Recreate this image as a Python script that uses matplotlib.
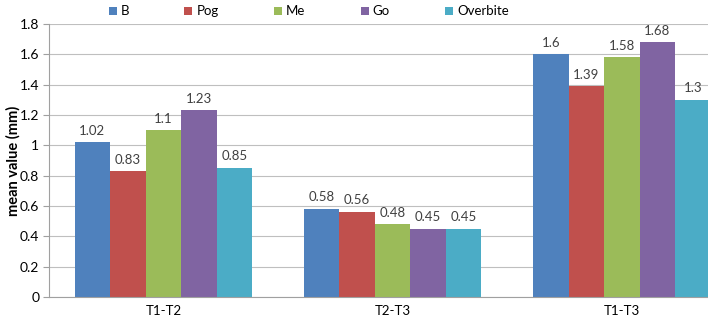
import matplotlib.pyplot as plt
import numpy as np

plt.rcParams['font.family'] = ['Lato', 'DejaVu Sans']

groups = ["T1-T2", "T2-T3", "T1-T3"]
series = ["B", "Pog", "Me", "Go", "Overbite"]
B = [1.02, 0.58, 1.6]
Pog = [0.83, 0.56, 1.39]
Me = [1.1, 0.48, 1.58]
Go = [1.23, 0.45, 1.68]
Overbite = [0.85, 0.45, 1.3]
colors = ["#4F81BD", "#C0504D", "#9BBB59", "#8064A2", "#4BACC6"]

values = [B, Pog, Me, Go, Overbite]

fig = plt.figure(figsize=(7.08, 3.19), dpi=100)
ax = fig.add_axes([0.069, 0.069, 0.931, 0.856])

x = np.arange(len(groups))
w = 0.155
for i, (name, vals) in enumerate(zip(series, values)):
    bars = ax.bar(x + (i - 2) * w, vals, w, color=colors[i], label=name, zorder=2)
    ax.bar_label(bars, labels=[f"{v:g}" for v in vals], padding=4,
                 fontsize=9.5, color="#404040")

ax.set_xlim(-0.5, 2.376)
ax.set_ylim(0, 1.8)
ticks = np.arange(0, 1.81, 0.2).round(1)
ax.set_yticks(ticks)
ax.set_yticklabels([f"{v:g}" for v in ticks])
ax.set_xticks(x)
ax.set_xticklabels(groups)
ax.tick_params(axis="y", length=4, color="#A0A0A0", labelsize=10, pad=3)
ax.tick_params(axis="x", length=0, labelsize=9.5, pad=6)
ax.grid(axis="y", color="#BFBFBF", linewidth=0.8, zorder=0)
for s in ["top", "right"]:
    ax.spines[s].set_visible(False)
ax.spines["left"].set_color("#A0A0A0")
ax.spines["bottom"].set_color("#A0A0A0")
ax.set_ylabel("mean value (mm)", fontsize=10.5, fontweight="bold")
ax.yaxis.set_label_coords(-0.043, 0.5)

fig.legend(loc="upper center", bbox_to_anchor=(0.436, 1.02), ncol=5,
           frameon=False, fontsize=9.5, handlelength=0.6, handleheight=0.6,
           handletextpad=0.3, columnspacing=4.2)

fig.savefig("out.png", dpi=100)
